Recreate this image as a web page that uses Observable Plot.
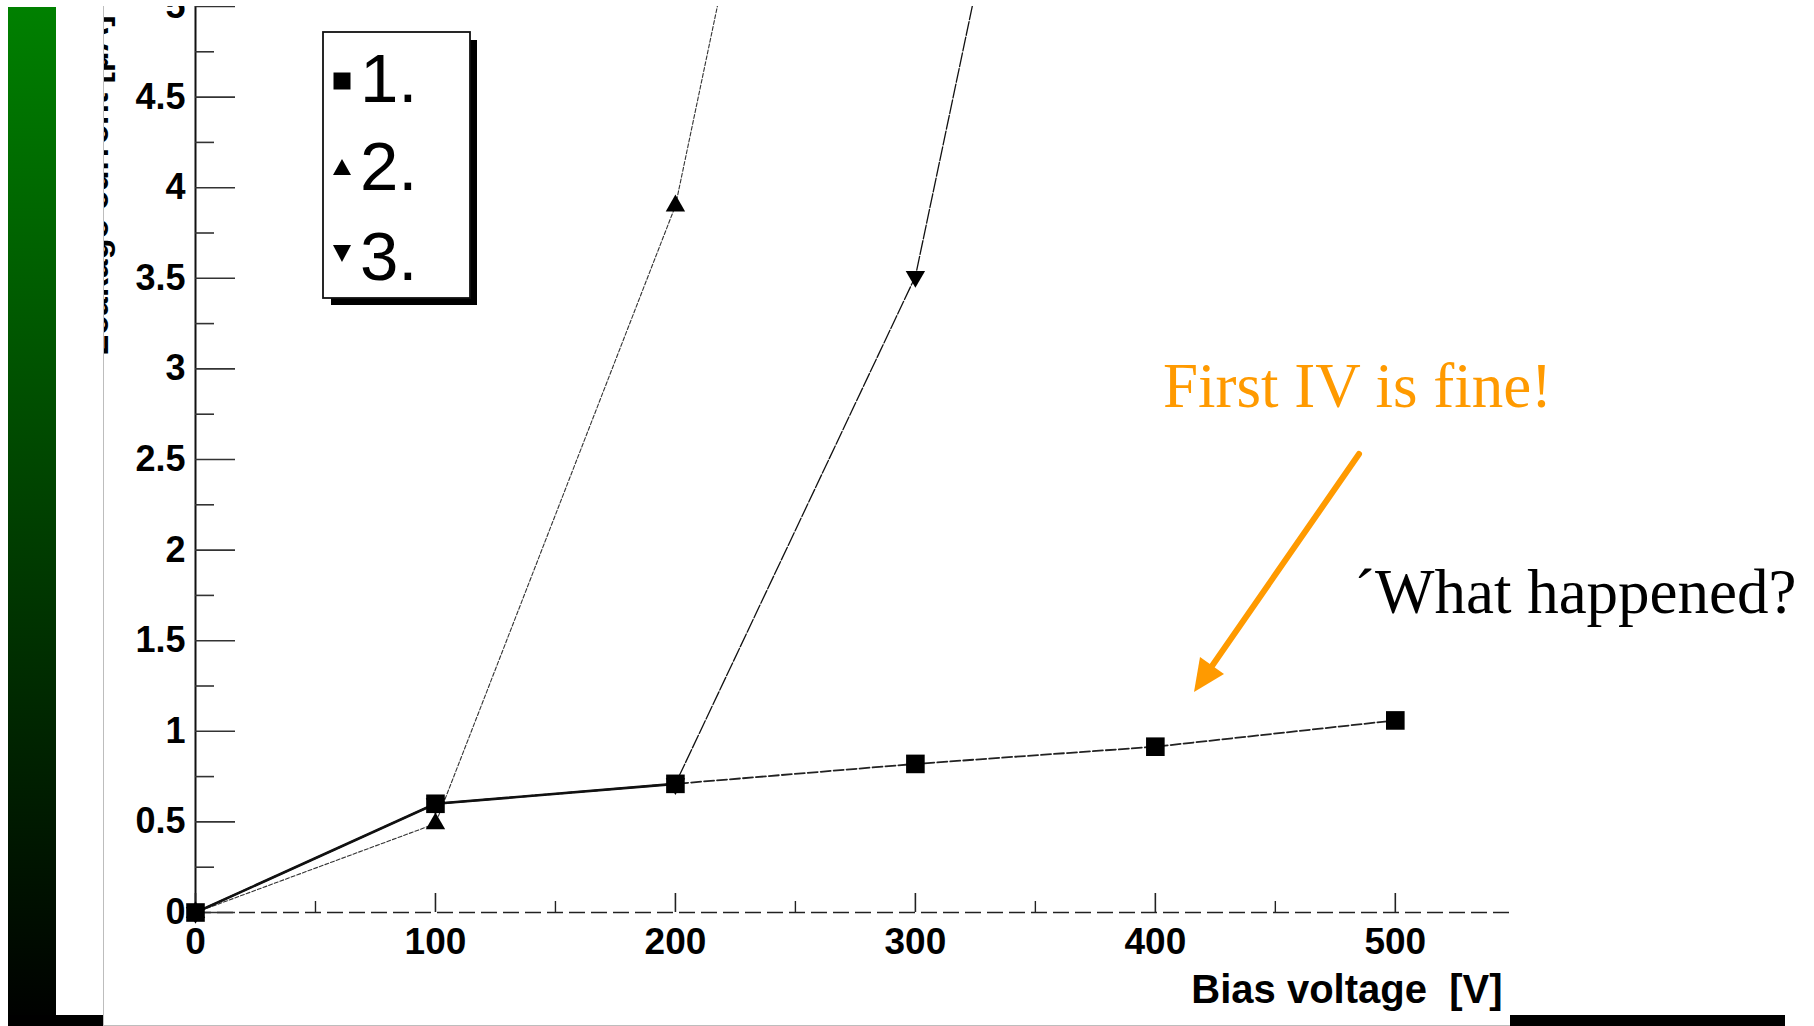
<!DOCTYPE html>
<html>
<head>
<meta charset="utf-8">
<script src="https://cdn.jsdelivr.net/npm/d3@7"></script>
<script src="https://cdn.jsdelivr.net/npm/@observablehq/plot@0.6"></script>
<style>
  html, body { margin: 0; padding: 0; background: #fff; }
  body { width: 1814px; height: 1026px; overflow: hidden; position: relative; }
  #greenbar { position: absolute; left: 8px; top: 7px; width: 48px; height: 1019px; background: linear-gradient(#008000, #000); }
  #blackstrip { position: absolute; left: 8px; top: 1015px; width: 1777px; height: 11px; background: #000; }
  #scan { position: absolute; left: 103px; top: 6px; width: 1406px; height: 1019px; background: #fff; border-left: 1px solid #bdbdbd; border-bottom: 1px solid #bdbdbd; }
  #overlay { position: absolute; left: 0; top: 0; pointer-events: none; }
</style>
</head>
<body>
<div id="greenbar"></div>
<div id="blackstrip"></div>
<div id="scan"></div>
<svg id="overlay" width="1814" height="1026"></svg>
<script>
// ---- data ----
const voltage1 = [0, 100, 200, 300, 400, 500];
const current1 = [0, 0.60, 0.71, 0.82, 0.915, 1.06];
const voltage2 = [0, 100, 200, 300];
const current2 = [0, 0.49, 3.90, 10.2];
const voltage3 = [0, 100, 200, 300, 400];
const current3 = [0, 0.60, 0.71, 3.51, 9.8];

const xMajorTicks = [0, 100, 200, 300, 400, 500];
const xMinorTicks = [50, 150, 250, 350, 450];
const yMajorTicks = [0, 0.5, 1, 1.5, 2, 2.5, 3, 3.5, 4, 4.5, 5];
const yMinorTicks = [0.25, 0.75, 1.25, 1.75, 2.25, 2.75, 3.25, 3.75, 4.25, 4.75];
const yTickLabels = ["0", "0.5", "1", "1.5", "2", "2.5", "3", "3.5", "4", "4.5", "5"];

const legendLabels = ["1.", "2.", "3."];
const xLabel = "Bias voltage  [V]";
const yLabel = "Leakage current [μA]";
const noteFine = "First IV is fine!";
const noteWhat = "\u00B4What happened?";

// ---- tables ----
const s1 = voltage1.map((v, i) => ({v, c: current1[i]}));
const s2 = voltage2.map((v, i) => ({v, c: current2[i]}));
const s3 = voltage3.map((v, i) => ({v, c: current3[i]}));
const shared = s1.filter(d => d.v <= 200);

const sans = "'Liberation Sans', Arial, Helvetica, sans-serif";

const plot = Plot.plot({
  width: 1406,
  height: 1019,
  marginLeft: 91,
  marginRight: 0,
  marginTop: 0,
  marginBottom: 113,
  x: {domain: [0, 548], axis: null},
  y: {domain: [0, 5], axis: null},
  style: {background: "transparent", fontFamily: sans, overflow: "hidden", color: "#000"},
  marks: [
    // axes lines
    Plot.ruleX([0], {stroke: "#111", strokeWidth: 2}),
    Plot.ruleY([0], {stroke: "#222", strokeWidth: 1.6, strokeDasharray: "16,6"}),
    // y ticks (inward)
    Plot.axisY(yMajorTicks, {anchor: "left", tickSize: -40, tickPadding: 50, fontSize: 36, fontWeight: "bold",
      tickFormat: d => yTickLabels[yMajorTicks.indexOf(d)], label: null, stroke: "#333", strokeWidth: 1.6}),
    Plot.axisY(yMinorTicks, {anchor: "left", tickSize: -19, tickFormat: () => "", label: null, stroke: "#333", strokeWidth: 1.6}),
    // x ticks (inward)
    Plot.axisX(xMajorTicks, {anchor: "bottom", tickSize: -19, tickPadding: 34, fontSize: 37, fontWeight: "bold",
      tickFormat: d => String(d), label: null, stroke: "#222", strokeWidth: 1.6}),
    Plot.axisX(xMinorTicks, {anchor: "bottom", tickSize: -11, tickFormat: () => "", label: null, stroke: "#222", strokeWidth: 1.4}),
    // axis labels (the y label is mostly cut off by the scan's left edge, as in the original)
    Plot.text([xLabel], {frameAnchor: "bottom-right", textAnchor: "end", lineAnchor: "bottom", dx: -8, dy: 90,
      fontSize: 40, fontWeight: "bold", fill: "#000"}),
    Plot.text([yLabel], {frameAnchor: "top-left", rotate: -90, textAnchor: "end", lineAnchor: "bottom",
      dx: -88, dy: 9, fontSize: 34, fontWeight: "bold", fill: "#000"}),
    // lines
    Plot.line(s2, {x: "v", y: "c", stroke: "#333", strokeWidth: 1.1, strokeDasharray: "4,2", clip: true}),
    Plot.line(s3, {x: "v", y: "c", stroke: "#111", strokeWidth: 1.3, strokeDasharray: "14,2", clip: true}),
    Plot.line(s1, {x: "v", y: "c", stroke: "#222", strokeWidth: 1.8, strokeDasharray: "10,3", clip: true}),
    Plot.line(shared, {x: "v", y: "c", stroke: "#111", strokeWidth: 2.6, clip: true}),
    // markers
    Plot.dot(s2, {x: "v", y: "c", symbol: "triangle", r: 7.2, fill: "#000", stroke: "none"}),
    Plot.dot(s3, {x: "v", y: "c", symbol: "triangle", r: 7.2, rotate: 180, fill: "#000", stroke: "none"}),
    Plot.dot(s1, {x: "v", y: "c", symbol: "square", r: 10.5, fill: "#000", stroke: "none"})
  ]
});
plot.style.overflow = "hidden";
document.getElementById("scan").appendChild(plot);

// ---- overlay: legend box, slide notes and arrow ----
const ov = d3.select("#overlay");
// legend (shadow + box)
ov.append("rect").attr("x", 331).attr("y", 40).attr("width", 146).attr("height", 265).attr("fill", "#000");
ov.append("rect").attr("x", 323).attr("y", 32).attr("width", 147).attr("height", 266)
  .attr("fill", "#fff").attr("stroke", "#111").attr("stroke-width", 1.8);
const legendShapes = [
  "M333.5,72.5h17v17h-17z",
  "M342,159L351,175L333,175Z",
  "M333,245L351,245L342,262Z"
];
const legendBaselines = [102, 190, 280];
legendLabels.forEach((t, i) => {
  ov.append("path").attr("d", legendShapes[i]).attr("fill", "#000");
  ov.append("text").attr("x", 360).attr("y", legendBaselines[i])
    .attr("font-family", sans).attr("font-size", 69).attr("fill", "#000").text(t);
});
// notes
const serif = "'Liberation Serif', 'Times New Roman', Times, serif";
ov.append("text").attr("x", 1163).attr("y", 407).attr("font-family", serif).attr("font-size", 63)
  .attr("fill", "#ff9a00").text(noteFine);
ov.append("text").attr("x", 1354).attr("y", 613).attr("font-family", serif).attr("font-size", 63)
  .attr("fill", "#000").text(noteWhat);
// arrow
ov.append("line").attr("x1", 1359).attr("y1", 454).attr("x2", 1212).attr("y2", 666)
  .attr("stroke", "#ff9a00").attr("stroke-width", 6).attr("stroke-linecap", "round");
ov.append("path").attr("d", "M1194,692L1224,674L1200,657Z").attr("fill", "#ff9a00");
</script>
</body>
</html>
